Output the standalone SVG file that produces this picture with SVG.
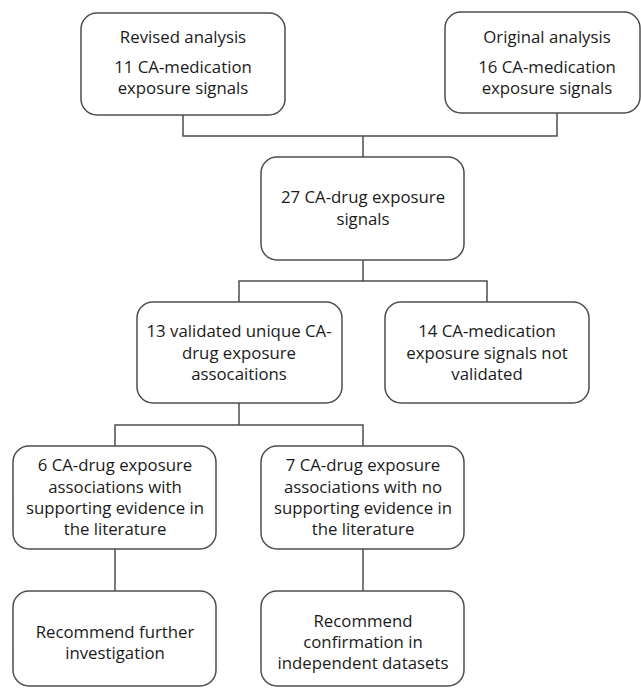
<svg xmlns="http://www.w3.org/2000/svg" width="641" height="688" viewBox="0 0 641 688">
<style>
.box{fill:#fff;stroke:#4d4d4d;stroke-width:1.5}
.ln{fill:none;stroke:#4d4d4d;stroke-width:1.5}
text{font-family:"Open Sans","Noto Sans",sans-serif;font-size:16.8px;fill:#1a1a1a;text-anchor:middle}
</style>
<rect width="641" height="688" fill="#fff"/>
<g id="connectors">
<path class="ln" d="M183 115V136H557V113"/>
<path class="ln" d="M363 136V157"/>
<path class="ln" d="M363 260V281M239 302V281H487V302"/>
<path class="ln" d="M239 403V425M115 446V425H363V446"/>
<path class="ln" d="M115 549V591"/>
<path class="ln" d="M363 549V591"/>
</g>
<g id="revised">
<rect class="box" x="81" y="13" width="204" height="102" rx="16"/>
<text x="183" y="43">Revised analysis</text>
<text x="183" y="73">11 CA-medication</text>
<text x="183" y="94">exposure signals</text>
</g>
<g id="original">
<rect class="box" x="445" y="12" width="195" height="101" rx="16"/>
<text x="547" y="43">Original analysis</text>
<text x="547" y="73">16 CA-medication</text>
<text x="547" y="94">exposure signals</text>
</g>
<g id="combined">
<rect class="box" x="261" y="157" width="203" height="103" rx="16"/>
<text x="363" y="203">27 CA-drug exposure</text>
<text x="363" y="225">signals</text>
</g>
<g id="validated">
<rect class="box" x="137" y="302" width="205" height="101" rx="16"/>
<text x="239" y="337">13 validated unique CA-</text>
<text x="239" y="359">drug exposure</text>
<text x="239" y="380">assocaitions</text>
</g>
<g id="notvalidated">
<rect class="box" x="385" y="302" width="204" height="101" rx="16"/>
<text x="487" y="337">14 CA-medication</text>
<text x="487" y="359">exposure signals not</text>
<text x="487" y="380">validated</text>
</g>
<g id="supported">
<rect class="box" x="13" y="446" width="203" height="103" rx="16"/>
<text x="115" y="471">6 CA-drug exposure</text>
<text x="115" y="493">associations with</text>
<text x="115" y="514">supporting evidence in</text>
<text x="115" y="535">the literature</text>
</g>
<g id="unsupported">
<rect class="box" x="261" y="446" width="203" height="103" rx="16"/>
<text x="363" y="471">7 CA-drug exposure</text>
<text x="363" y="493">associations with no</text>
<text x="363" y="514">supporting evidence in</text>
<text x="363" y="535">the literature</text>
</g>
<g id="further">
<rect class="box" x="13" y="591" width="203" height="95" rx="16"/>
<text x="115" y="638">Recommend further</text>
<text x="115" y="659">investigation</text>
</g>
<g id="confirmation">
<rect class="box" x="261" y="591" width="203" height="95" rx="16"/>
<text x="363" y="627">Recommend</text>
<text x="363" y="648">confirmation in</text>
<text x="363" y="669">independent datasets</text>
</g>
</svg>
